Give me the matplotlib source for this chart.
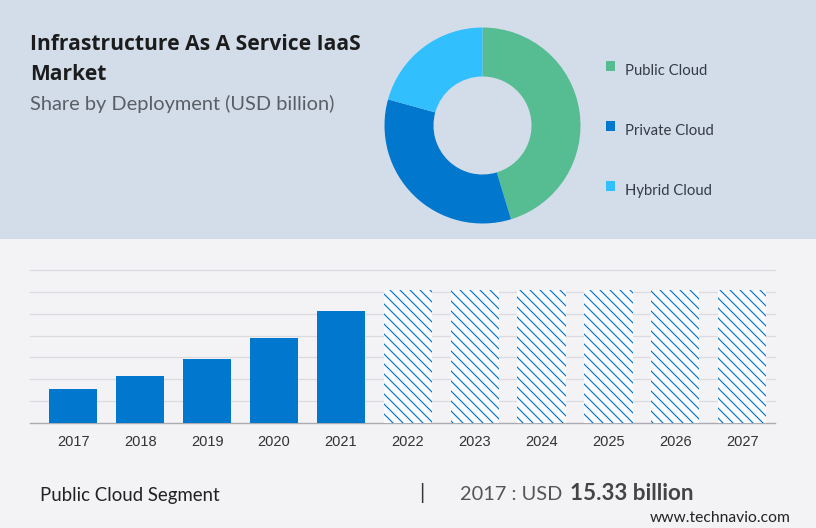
import matplotlib
matplotlib.use("Agg")
import matplotlib.pyplot as plt
from matplotlib.patches import Rectangle

W, H = 816, 528

segments = ["Public Cloud", "Private Cloud", "Hybrid Cloud"]
shares = [45.3, 34.0, 20.7]
segment_colors = ["#56BD93", "#0277CE", "#31BFFE"]

years = ["2017", "2018", "2019", "2020", "2021"]
values = [15.33, 21.5, 29.3, 39.1, 51.2]
forecast_years = ["2022", "2023", "2024", "2025", "2026", "2027"]
forecast_values = [60.8, 60.8, 60.8, 60.8, 60.8, 60.8]

plt.rcParams["font.family"] = ["Lato", "DejaVu Sans"]
plt.rcParams["hatch.linewidth"] = 0.7

# 120 dpi so the hatch tile is a round number of pixels
fig = plt.figure(figsize=(W / 120, H / 120), dpi=120, facecolor="#F3F3F6")


def px_axes(x0, y0, x1, y1):
    # pixel box, y measured from the top
    return fig.add_axes([x0 / W, 1 - y1 / H, (x1 - x0) / W, (y1 - y0) / H])


def px_text(x, y, s, **kw):
    kw.setdefault("va", "center")
    return fig.text(x / W, 1 - y / H, s, **kw)


fig.add_artist(Rectangle((0, 1 - 238.5 / H), 1, 238.5 / H, transform=fig.transFigure,
                         facecolor="#D3DDEA", edgecolor="none", zorder=-5))

# donut
ax_pie = px_axes(384.5, 27.5, 580.5, 223.5)
ax_pie.pie(shares, colors=segment_colors, startangle=90, counterclock=False, radius=1,
           wedgeprops=dict(width=0.5, linewidth=0))
ax_pie.set_xlim(-1, 1)
ax_pie.set_ylim(-1, 1)

# legend
for i in range(len(segments)):
    y = 69 + 60 * i
    fig.add_artist(Rectangle((606 / W, 1 - (y + 1.5) / H), 9 / W, 9 / H, transform=fig.transFigure,
                             facecolor=segment_colors[i], edgecolor="none"))
    px_text(625, y + 2, segments[i], fontsize=8.9, color="#333B45")

# titles
px_text(30, 45, "Infrastructure As A Service IaaS", fontsize=12.6, fontweight="bold", family="Open Sans", color="#1C1C1C")
px_text(30, 75, "Market", fontsize=12.6, fontweight="bold", family="Open Sans", color="#1C1C1C")
px_text(30, 104, "Share by Deployment (USD billion)", fontsize=12, color="#5A5F66")

# bars
ax = px_axes(30, 270, 775, 423)
ax.set_facecolor("none")
n_hist = len(years)
all_years = years + forecast_years
ax.bar(range(n_hist), values, width=0.72, color="#0277CE", linewidth=0, zorder=3)
ax.bar(range(n_hist, len(all_years)), forecast_values, width=0.72, facecolor="#FBFBFD",
       edgecolor="#0277CE", hatch="\\\\\\\\", linewidth=0, zorder=3)
ax.set_xlim(-0.647, 10.49)
ax.set_ylim(0, 70)
ax.set_yticks(range(0, 80, 10))
ax.set_yticklabels([])
ax.set_xticks(range(len(all_years)))
ax.set_xticklabels(all_years, fontsize=8.8, family="Liberation Sans", color="#333333")
ax.tick_params(axis="both", length=0)
ax.tick_params(axis="x", pad=7)
ax.grid(axis="y", color="#DADADF", linewidth=0.7, zorder=0, clip_on=False)
ax.set_axisbelow(True)
for side in ["top", "left", "right"]:
    ax.spines[side].set_visible(False)
ax.spines["bottom"].set_color("#ABABB0")
ax.spines["bottom"].set_linewidth(0.8)

# footer
px_text(40, 495, "Public Cloud Segment", fontsize=11.2, color="#222222")
px_text(422, 493, "|", fontsize=12.5, color="#333333", ha="center")
px_text(460, 494, "2017 : USD", fontsize=12, color="#555555")
px_text(570, 494, "15.33 billion", fontsize=13.4, fontweight="bold", color="#444444")
px_text(650, 518, "www.technavio.com", fontsize=9.4, color="#222222")

fig.savefig("out.png", dpi=120, facecolor=fig.get_facecolor())
